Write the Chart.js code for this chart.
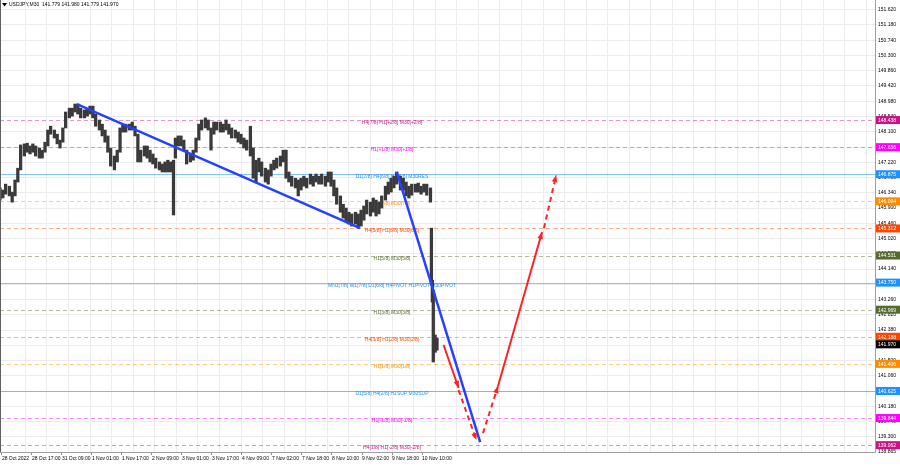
<!DOCTYPE html>
<html>
<head>
<meta charset="utf-8">
<script src="https://cdn.jsdelivr.net/npm/chart.js@4.4.1/dist/chart.umd.min.js"></script>
<style>
  body { margin: 0; background: #fff; }
  #wrap { width: 900px; height: 468px; }
</style>
</head>
<body>
<div id="wrap"><canvas id="chart" width="900" height="468"></canvas></div>
<script>
// M30 bars, x in bar index
const candleBars = [0,3,6,10,13,16,19,22,26,29,32,35,38,42,45,48,51,54,58,61,64,67,70,74,77,80,83,86,90,93,96,99,102,106,109,112,115,118,122,125,128,131,134,138,141,144,147,150,154,157,160,163,166,170,173,176,179,182,185,187,190,193,196,199,203,206,209,212,215,219,222,225,228,231,235,238,241,244,247,251,254,257,260,263,267,270,273,276,279,283,286,289,292,295,299,302,305,308,311,315,318,321,324,327,331,334,337,340,343,347,350,353,356,359,363,366,369,372,375,379,382,385,388,391,395,398,401,404,407,411,414,417,420,423,427,430,433,436,439,443,446,449,452,455,459,460,461,462,464,466];
const candleHighs = [146.48,146.42,146.59,146.53,146.36,146.71,147.05,147.72,147.75,147.77,147.69,147.75,147.69,147.63,147.57,147.80,148.15,148.26,148.15,148.03,147.86,148.21,148.67,148.78,148.78,148.90,148.90,148.78,148.73,148.78,148.84,148.84,148.61,148.44,148.32,148.15,147.98,147.63,147.40,147.57,148.21,148.32,148.32,148.32,148.38,148.26,148.03,147.57,147.69,147.69,147.57,147.46,147.34,147.23,147.17,147.23,147.28,147.23,147.28,147.92,147.98,147.98,147.86,147.57,147.46,147.57,147.92,148.32,148.44,148.50,148.44,148.21,148.38,148.38,148.38,148.32,148.44,148.32,148.21,148.15,148.09,148.03,147.92,147.86,148.26,147.63,147.28,147.34,147.23,147.05,147.00,147.17,147.28,147.34,147.40,147.57,147.57,146.94,146.82,146.76,146.71,146.76,146.82,146.76,146.88,146.82,146.88,146.82,146.88,146.82,146.94,146.94,146.71,146.48,146.25,146.01,145.90,145.78,145.73,145.78,145.73,145.84,145.96,146.13,146.07,146.19,146.13,146.07,146.25,146.53,146.65,146.76,146.82,146.94,146.82,146.76,146.65,146.53,146.59,146.59,146.62,146.53,146.59,146.59,146.48,145.32,143.82,143.53,142.24,142.15];
const candleLows = [146.13,146.19,146.30,146.25,146.07,146.25,146.65,147.00,147.40,147.51,147.46,147.51,147.40,147.34,147.34,147.51,147.69,148.03,147.92,147.75,147.63,147.80,148.21,148.50,148.55,148.67,148.61,148.50,148.50,148.55,148.61,148.50,148.26,148.15,147.98,147.80,147.51,147.11,147.00,147.23,147.51,148.09,148.09,148.15,148.15,147.98,147.23,147.23,147.40,147.34,147.23,147.17,147.05,147.00,146.94,146.94,146.94,146.94,145.70,147.34,147.69,147.69,147.57,147.17,147.23,147.28,147.51,147.86,148.15,148.21,148.15,147.57,148.03,148.15,148.09,148.09,148.15,148.03,147.92,147.92,147.80,147.75,147.63,147.57,147.40,146.76,146.65,146.94,146.82,146.65,146.59,146.82,147.00,147.05,147.11,147.23,146.76,146.65,146.53,146.48,146.25,146.42,146.53,146.48,146.59,146.53,146.65,146.59,146.59,146.53,146.65,146.53,146.25,146.01,145.78,145.61,145.50,145.44,145.38,145.44,145.32,145.38,145.55,145.73,145.67,145.78,145.67,145.73,145.90,146.13,146.30,146.36,146.48,146.59,146.42,146.42,146.25,146.19,146.27,146.36,146.36,146.30,146.36,146.27,146.07,143.68,143.19,141.46,141.74,141.80];

// trend lines and projected path
const trendDown1 = [[82, 148.90], [384, 145.32]];
const trendDown2 = [[423, 146.94], [512, 139.15]];
const arrowSolid1 = [[473, 141.95], [489, 140.71]];
const arrowDash1 = [[489, 140.65], [508, 139.21]];
const arrowDash2 = [[515, 139.41], [531, 140.76]];
const arrowSolid2 = [[531, 140.76], [578, 145.21]];
const arrowDash3 = [[580, 145.32], [593, 146.85]];

// Murrey levels
const levelValues = [148.438, 147.656, 146.875, 146.094, 145.312, 144.531, 143.750, 142.969, 142.188, 141.406, 140.625, 139.844, 139.062];
const levelLabels = [
  'H4[7/8] H1[+2/8] M30[+2/8]',
  'H1[+1/8] M30[+1/8]',
  'D1[7/8] H4[6/8] H1[8/8] M30RES',
  'H1[7/8] M30[7/8]',
  'H4[5/8] H1[6/8] M30[6/8]',
  'H1[5/8] M30[5/8]',
  'MN1[7/8] W1[7/8] D1[6/8] H4PIVOT H1PIVOT M30PIVOT',
  'H1[3/8] M30[3/8]',
  'H4[3/8] H1[2/8] M30[2/8]',
  'H1[1/8] M30[1/8]',
  'D1[5/8] H4[2/8] H1SUP M30SUP',
  'H1[-1/8] M30[-1/8]',
  'H4[1/8] H1[-2/8] M30[-2/8]'
];
const levelColors = ['#c71585','#ff00ff','#1e90ff','#ff8c00','#ff4500','#556b2f','#1e90ff','#556b2f','#ff4500','#ff8c00','#1e90ff','#ff00ff','#c71585'];
const levelSolid = [false,false,true,false,false,false,true,false,false,false,true,false,false];
const lastPrice = 141.970;
const labelBar = 418;

const xTickBars = [2,34,66,98,130,162,194,226,258,290,322,354,386,418,450];
const xTickLabels = ['28 Oct 2022','28 Oct 17:00','31 Oct 09:00','1 Nov 01:00','1 Nov 17:00','2 Nov 09:00','3 Nov 01:00','3 Nov 17:00','4 Nov 09:00','7 Nov 02:00','7 Nov 18:00','8 Nov 10:00','9 Nov 02:00','9 Nov 18:00','10 Nov 10:00'];
const yTickValues = [151.620,151.180,150.740,150.300,149.860,149.420,148.980,148.540,148.100,147.660,147.220,146.780,146.340,145.900,145.460,145.020,144.580,144.140,143.700,143.260,142.820,142.380,141.940,141.500,141.060,140.620,140.180,139.740,139.300,138.865];

const FONT = '"Liberation Sans", Arial, sans-serif';

const pts = (arr) => arr.map(p => ({ x: p[0], y: p[1] }));

function segment(arr, color, width, dash, arrow) {
  return {
    type: 'line',
    data: pts(arr),
    borderColor: color,
    borderWidth: width,
    borderDash: dash,
    pointRadius: 0,
    arrow: arrow,
    order: 0
  };
}

const levelPlugin = {
  id: 'levels',
  beforeDatasetsDraw(chart) {
    const { ctx, chartArea: a, scales: { x, y } } = chart;
    ctx.save();
    levelValues.forEach((v, i) => {
      const py = Math.round(y.getPixelForValue(v)) + 0.5;
      ctx.globalAlpha = levelSolid[i] ? 0.55 : 0.45;
      ctx.strokeStyle = levelColors[i];
      ctx.lineWidth = 1;
      ctx.setLineDash(levelSolid[i] ? [] : [4, 3]);
      ctx.beginPath();
      ctx.moveTo(a.left, py);
      ctx.lineTo(a.right, py);
      ctx.stroke();
      ctx.globalAlpha = 1;
      ctx.fillStyle = levelColors[i];
      ctx.font = '5px ' + FONT;
      ctx.textAlign = 'center';
      ctx.textBaseline = 'middle';
      ctx.fillText(levelLabels[i], x.getPixelForValue(labelBar), py + 2);
    });
    ctx.restore();
  },
  afterDatasetsDraw(chart) {
    const { ctx } = chart;
    ctx.save();
    chart.data.datasets.forEach((ds, i) => {
      if (!ds.arrow) return;
      const pts = chart.getDatasetMeta(i).data;
      const p1 = pts[pts.length - 2], p2 = pts[pts.length - 1];
      const ang = Math.atan2(p2.y - p1.y, p2.x - p1.x);
      const len = 7, half = 2.8;
      ctx.fillStyle = ds.borderColor;
      ctx.beginPath();
      ctx.moveTo(p2.x, p2.y);
      ctx.lineTo(p2.x - len * Math.cos(ang) + half * Math.sin(ang), p2.y - len * Math.sin(ang) - half * Math.cos(ang));
      ctx.lineTo(p2.x - len * Math.cos(ang) - half * Math.sin(ang), p2.y - len * Math.sin(ang) + half * Math.cos(ang));
      ctx.closePath();
      ctx.fill();
    });
    ctx.restore();
  },
  afterDraw(chart) {
    const { ctx, chartArea: a, scales: { y } } = chart;
    ctx.save();
    // frame
    ctx.strokeStyle = '#a0a0a0';
    ctx.lineWidth = 1;
    ctx.beginPath();
    ctx.moveTo(a.right + 0.5, 0);
    ctx.lineTo(a.right + 0.5, a.bottom + 0.5);
    ctx.lineTo(0, a.bottom + 0.5);
    ctx.stroke();
    ctx.strokeStyle = '#606060';
    ctx.beginPath();
    ctx.moveTo(0.5, 0);
    ctx.lineTo(0.5, a.bottom);
    ctx.stroke();
    // price boxes
    const boxes = levelValues.map((v, i) => [v, levelColors[i]]).concat([[lastPrice, '#000000']]);
    ctx.font = '5px ' + FONT;
    ctx.textBaseline = 'middle';
    ctx.textAlign = 'left';
    boxes.forEach(([v, c]) => {
      const py = y.getPixelForValue(v);
      ctx.fillStyle = c;
      ctx.fillRect(a.right + 1, py - 4, chart.width - a.right - 1, 8);
      ctx.fillStyle = '#ffffff';
      ctx.fillText(v.toFixed(3), a.right + 3, py + 0.5);
    });
    // title
    ctx.fillStyle = '#000';
    ctx.beginPath();
    ctx.moveTo(2, 3); ctx.lineTo(7, 3); ctx.lineTo(4.5, 6.5); ctx.closePath();
    ctx.fill();
    ctx.fillText('USDJPY,M30  141.779 141.980 141.779 141.970', 9, 5);
    ctx.restore();
  }
};

new Chart(document.getElementById('chart'), {
  type: 'bar',
  data: {
    datasets: [
      {
        type: 'bar',
        data: candleBars.map((b, i) => ({ x: b, y: [candleLows[i], candleHighs[i]] })),
        backgroundColor: '#3a3a3a',
        barThickness: 2.6,
        order: 2
      },
      segment(trendDown1, '#2442ff', 2.5, [], false),
      segment(trendDown2, '#2442ff', 2.5, [], false),
      segment(arrowSolid1, '#ff2222', 2, [], true),
      segment(arrowDash1, '#ff2222', 2, [5, 4], true),
      segment(arrowDash2, '#ff2222', 2, [5, 4], true),
      segment(arrowSolid2, '#ff2222', 2, [], true),
      segment(arrowDash3, '#ff2222', 2, [5, 4], true)
    ]
  },
  options: {
    responsive: false,
    animation: false,
    layout: { padding: 0, autoPadding: false },
    plugins: { legend: { display: false }, tooltip: { enabled: false } },
    scales: {
      xg: {
        type: 'linear',
        position: 'top',
        min: 0,
        max: 933,
        offset: false,
        afterBuildTicks: (s) => {
          const t = [];
          for (let v = 27; v < 933; v += 23) t.push({ value: v });
          s.ticks = t;
        },
        afterFit: (s) => { s.height = 0; s.paddingLeft = 0; s.paddingRight = 0; },
        ticks: { display: false },
        grid: { color: '#ececec', drawTicks: false, offset: false },
        border: { display: false }
      },
      x: {
        type: 'linear',
        position: 'bottom',
        min: 0,
        max: 933,
        offset: false,
        afterBuildTicks: (s) => { s.ticks = xTickBars.map(v => ({ value: v })); },
        afterFit: (s) => { s.height = 16; s.paddingLeft = 0; s.paddingRight = 0; },
        ticks: {
          autoSkip: false,
          maxRotation: 0,
          align: 'start',
          padding: 1,
          color: '#000',
          font: { size: 5, family: FONT },
          callback: (v, i) => xTickLabels[i]
        },
        grid: { drawOnChartArea: false, tickLength: 3, color: '#909090', offset: false },
        border: { display: false }
      },
      y: {
        position: 'right',
        min: 138.865,
        max: 151.90,
        afterBuildTicks: (s) => { s.ticks = yTickValues.map(v => ({ value: v })); },
        afterFit: (s) => { s.width = 25; s.paddingTop = 0; s.paddingBottom = 0; },
        ticks: {
          padding: 1,
          color: '#000',
          font: { size: 5, family: FONT },
          callback: (v) => Number(v).toFixed(3)
        },
        grid: { color: '#ececec', tickLength: 2 },
        border: { display: false }
      }
    }
  },
  plugins: [levelPlugin]
});
</script>
</body>
</html>
